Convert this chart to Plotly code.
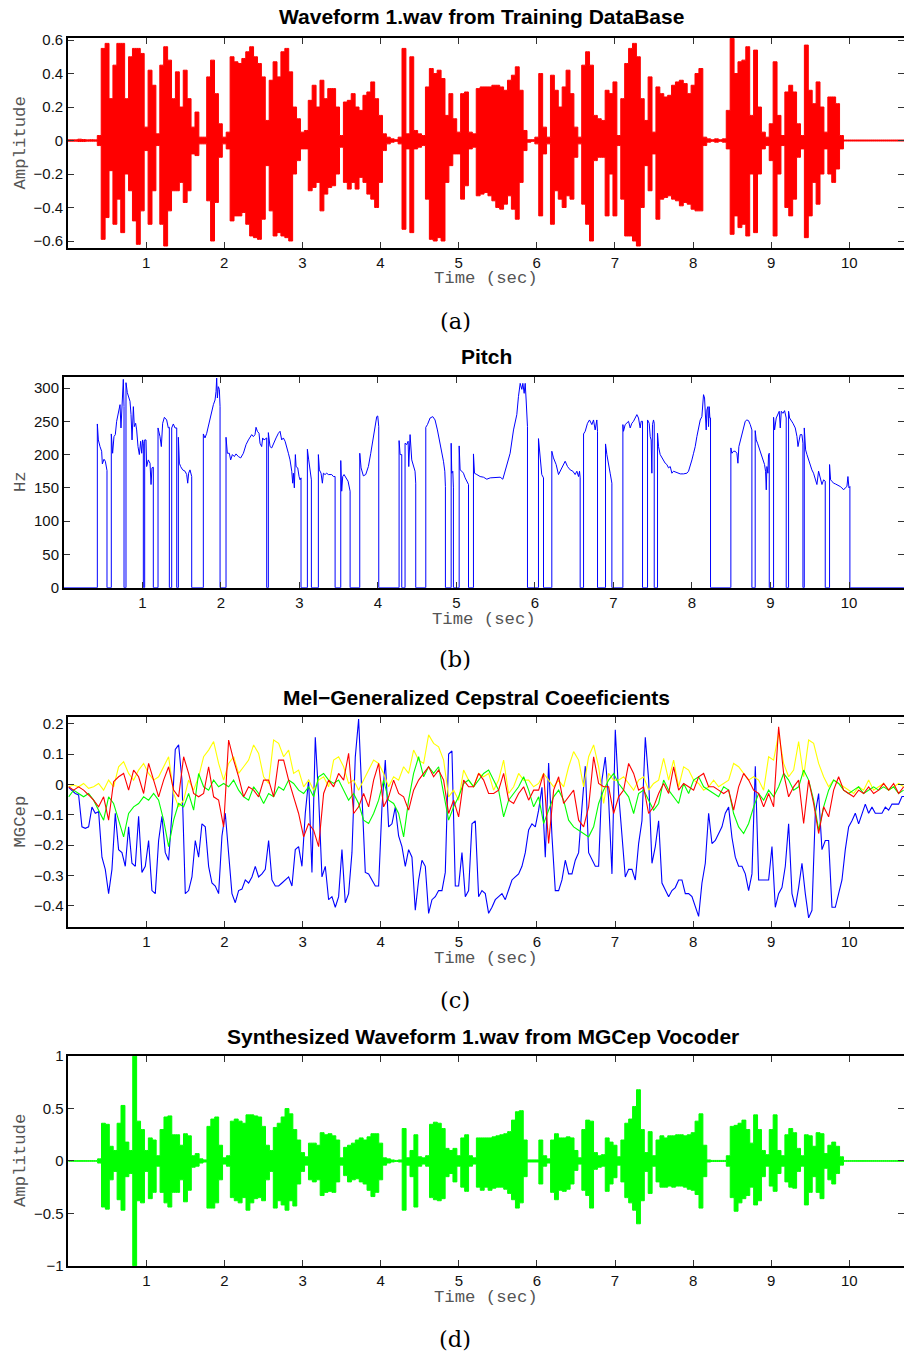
import numpy as np
import plotly.graph_objects as go

W, H = 904, 1352
T_END = 10.7


def px(x):
    return x / W


def py(y):
    return 1 - y / H


# ---------------------------------------------------------------------------
# (a) original waveform, peak envelope every 50 ms (upper / lower)
WAVE_DT = 0.05
ORIG_UP = [0.004, 0.004, 0.004, 0.008, 0.006, 0.004, 0.005, 0.004, 0.03, 0.55,
           0.58, 0.25, 0.45, 0.58, 0.58, 0.25, 0.50, 0.55, 0.55, 0.52,
           0.08, 0.42, 0.33, 0.04, 0.45, 0.56, 0.48, 0.25, 0.41, 0.20,
           0.42, 0.25, 0.08, 0.17, 0.02, 0.02, 0.38, 0.48, 0.28, 0.10,
           0.02, 0.05, 0.50, 0.47, 0.46, 0.49, 0.53, 0.56, 0.50, 0.46,
           0.38, 0.12, 0.36, 0.47, 0.38, 0.53, 0.55, 0.41, 0.20, 0.13,
           0.05, 0.06, 0.24, 0.33, 0.20, 0.36, 0.25, 0.31, 0.31, 0.20,
           0.03, 0.23, 0.24, 0.28, 0.20, 0.18, 0.27, 0.29, 0.35, 0.25,
           0.15, 0.04, 0.02, 0.01, 0.005, 0.02, 0.55, 0.04, 0.50, 0.06,
           0.04, 0.03, 0.32, 0.43, 0.40, 0.42, 0.37, 0.15, 0.28, 0.13,
           0.05, 0.28, 0.29, 0.05, 0.04, 0.31, 0.32, 0.32, 0.32, 0.33,
           0.33, 0.32, 0.30, 0.36, 0.39, 0.44, 0.30, 0.06, 0.005, 0.005,
           0.02, 0.40, 0.08, 0.02, 0.39, 0.30, 0.20, 0.32, 0.42, 0.28,
           0.08, 0.02, 0.45, 0.53, 0.45, 0.15, 0.13, 0.12, 0.30, 0.28,
           0.35, 0.03, 0.25, 0.46, 0.55, 0.58, 0.50, 0.25, 0.12, 0.38,
           0.05, 0.32, 0.28, 0.26, 0.27, 0.33, 0.35, 0.36, 0.34, 0.28,
           0.33, 0.40, 0.43, 0.02, 0.01, 0.005, 0.01, 0.005, 0.01, 0.18,
           0.61, 0.40, 0.47, 0.48, 0.56, 0.15, 0.54, 0.20, 0.05, 0.02,
           0.10, 0.47, 0.15, 0.03, 0.29, 0.33, 0.29, 0.10, 0.03, 0.57,
           0.30, 0.22, 0.35, 0.20, 0.05, 0.26, 0.26, 0.22, 0.03, 0.003,
           0.003, 0.003, 0.003, 0.003, 0.003, 0.003, 0.003, 0.003, 0.003, 0.003,
           0.003, 0.003, 0.003, 0.003, 0.003]
ORIG_LO = [-0.004, -0.004, -0.004, -0.006, -0.006, -0.004, -0.004, -0.004, -0.03, -0.59,
           -0.46, -0.18, -0.50, -0.35, -0.55, -0.20, -0.30, -0.48, -0.62, -0.42,
           -0.06, -0.50, -0.30, -0.03, -0.50, -0.63, -0.42, -0.30, -0.30, -0.25,
           -0.37, -0.30, -0.08, -0.09, -0.02, -0.02, -0.36, -0.60, -0.37, -0.10,
           -0.02, -0.05, -0.48, -0.45, -0.45, -0.43, -0.50, -0.57, -0.58, -0.59,
           -0.47, -0.15, -0.42, -0.57, -0.55, -0.57, -0.58, -0.60, -0.20, -0.12,
           -0.05, -0.05, -0.30, -0.28, -0.25, -0.42, -0.32, -0.28, -0.27, -0.20,
           -0.04, -0.25, -0.29, -0.25, -0.29, -0.22, -0.25, -0.32, -0.35, -0.40,
           -0.25, -0.06, -0.02, -0.01, -0.005, -0.02, -0.53, -0.05, -0.55, -0.05,
           -0.04, -0.03, -0.35, -0.59, -0.60, -0.58, -0.60, -0.25, -0.15, -0.08,
           -0.08, -0.35, -0.27, -0.05, -0.04, -0.33, -0.32, -0.31, -0.33, -0.36,
           -0.40, -0.41, -0.38, -0.33, -0.41, -0.47, -0.25, -0.06, -0.01, -0.005,
           -0.02, -0.45, -0.08, -0.02, -0.50, -0.30, -0.35, -0.40, -0.33, -0.35,
           -0.10, -0.02, -0.38, -0.50, -0.60, -0.12, -0.10, -0.10, -0.45, -0.20,
           -0.45, -0.03, -0.35, -0.57, -0.57, -0.60, -0.63, -0.40, -0.15, -0.30,
           -0.08, -0.47, -0.35, -0.34, -0.33, -0.35, -0.36, -0.39, -0.37, -0.38,
           -0.41, -0.42, -0.42, -0.03, -0.01, -0.005, -0.01, -0.005, -0.01, -0.05,
           -0.56, -0.45, -0.52, -0.50, -0.57, -0.20, -0.55, -0.20, -0.05, -0.03,
           -0.12, -0.57, -0.20, -0.03, -0.40, -0.45, -0.35, -0.10, -0.05, -0.58,
           -0.45, -0.25, -0.38, -0.20, -0.05, -0.20, -0.25, -0.17, -0.05, -0.003,
           -0.003, -0.003, -0.003, -0.003, -0.003, -0.003, -0.003, -0.003, -0.003, -0.003,
           -0.003, -0.003, -0.003, -0.003, -0.003]

# (d) vocoder output, same envelope layout
SYN_UP = [0.003, 0.003, 0.003, 0.003, 0.003, 0.003, 0.003, 0.003, 0.02, 0.36,
          0.35, 0.14, 0.10, 0.36, 0.53, 0.18, 0.10, 1.00, 0.38, 0.30,
          0.10, 0.22, 0.20, 0.05, 0.30, 0.42, 0.43, 0.25, 0.25, 0.15,
          0.26, 0.24, 0.05, 0.07, 0.02, 0.01, 0.33, 0.40, 0.42, 0.15,
          0.03, 0.05, 0.38, 0.40, 0.38, 0.36, 0.44, 0.44, 0.43, 0.42,
          0.33, 0.15, 0.10, 0.32, 0.36, 0.42, 0.50, 0.45, 0.30, 0.20,
          0.08, 0.04, 0.17, 0.17, 0.15, 0.27, 0.25, 0.26, 0.24, 0.20,
          0.03, 0.13, 0.15, 0.17, 0.20, 0.22, 0.20, 0.23, 0.26, 0.26,
          0.17, 0.03, 0.02, 0.01, 0.005, 0.01, 0.31, 0.03, 0.10, 0.25,
          0.04, 0.03, 0.05, 0.35, 0.37, 0.36, 0.31, 0.12, 0.10, 0.12,
          0.05, 0.22, 0.25, 0.05, 0.03, 0.22, 0.22, 0.22, 0.22, 0.23,
          0.24, 0.25, 0.26, 0.28, 0.39, 0.47, 0.48, 0.20, 0.01, 0.01,
          0.01, 0.20, 0.05, 0.02, 0.20, 0.26, 0.22, 0.22, 0.23, 0.22,
          0.10, 0.03, 0.30, 0.39, 0.38, 0.08, 0.05, 0.06, 0.22, 0.18,
          0.15, 0.04, 0.20, 0.36, 0.40, 0.52, 0.68, 0.30, 0.08, 0.28,
          0.05, 0.20, 0.24, 0.22, 0.24, 0.24, 0.25, 0.25, 0.24, 0.25,
          0.27, 0.38, 0.45, 0.15, 0.01, 0.005, 0.005, 0.005, 0.005, 0.05,
          0.33, 0.34, 0.36, 0.39, 0.30, 0.17, 0.44, 0.30, 0.10, 0.06,
          0.30, 0.44, 0.10, 0.05, 0.25, 0.31, 0.27, 0.12, 0.05, 0.25,
          0.24, 0.14, 0.27, 0.26, 0.07, 0.15, 0.18, 0.14, 0.04, 0.003,
          0.003, 0.003, 0.003, 0.003, 0.003, 0.003, 0.003, 0.003, 0.003, 0.003,
          0.003, 0.003, 0.003, 0.003, 0.003]
SYN_LO = [-0.003, -0.003, -0.003, -0.003, -0.003, -0.003, -0.003, -0.003, -0.02, -0.44,
          -0.46, -0.18, -0.10, -0.37, -0.47, -0.15, -0.12, -1.00, -0.38, -0.40,
          -0.10, -0.36, -0.30, -0.05, -0.30, -0.40, -0.44, -0.30, -0.30, -0.18,
          -0.39, -0.28, -0.06, -0.05, -0.02, -0.01, -0.45, -0.45, -0.40, -0.18,
          -0.03, -0.05, -0.35, -0.38, -0.40, -0.35, -0.47, -0.40, -0.36, -0.35,
          -0.38, -0.18, -0.10, -0.45, -0.38, -0.42, -0.47, -0.38, -0.43, -0.22,
          -0.10, -0.04, -0.18, -0.20, -0.18, -0.33, -0.30, -0.29, -0.30, -0.20,
          -0.04, -0.14, -0.20, -0.18, -0.17, -0.20, -0.22, -0.28, -0.34, -0.30,
          -0.18, -0.04, -0.02, -0.01, -0.005, -0.01, -0.47, -0.04, -0.15, -0.44,
          -0.05, -0.03, -0.05, -0.35, -0.37, -0.38, -0.36, -0.15, -0.12, -0.20,
          -0.05, -0.25, -0.29, -0.05, -0.03, -0.25, -0.28, -0.25, -0.28, -0.26,
          -0.25, -0.25, -0.27, -0.31, -0.37, -0.45, -0.40, -0.15, -0.01, -0.01,
          -0.01, -0.22, -0.05, -0.02, -0.30, -0.37, -0.28, -0.29, -0.27, -0.22,
          -0.09, -0.03, -0.28, -0.33, -0.45, -0.08, -0.06, -0.05, -0.29, -0.22,
          -0.16, -0.04, -0.20, -0.35, -0.40, -0.47, -0.60, -0.38, -0.10, -0.31,
          -0.05, -0.20, -0.25, -0.25, -0.24, -0.25, -0.24, -0.24, -0.25, -0.27,
          -0.28, -0.32, -0.45, -0.15, -0.01, -0.005, -0.005, -0.005, -0.005, -0.05,
          -0.35, -0.48, -0.40, -0.36, -0.33, -0.25, -0.42, -0.38, -0.15, -0.05,
          -0.24, -0.29, -0.12, -0.05, -0.20, -0.25, -0.26, -0.10, -0.05, -0.42,
          -0.30, -0.15, -0.30, -0.36, -0.07, -0.18, -0.22, -0.12, -0.04, -0.003,
          -0.003, -0.003, -0.003, -0.003, -0.003, -0.003, -0.003, -0.003, -0.003, -0.003,
          -0.003, -0.003, -0.003, -0.003, -0.003]

# ---------------------------------------------------------------------------
# (b) pitch: voiced segments (time in s, F0 in Hz); unvoiced frames are 0 Hz
PITCH_SEG_T = [
    [0.427, 0.440, 0.461, 0.482, 0.491, 0.512, 0.529, 0.550],
    [0.605, 0.622, 0.639, 0.656, 0.673, 0.694, 0.716, 0.728, 0.741, 0.758, 0.767],
    [0.792, 0.809, 0.826, 0.843, 0.856, 0.869, 0.886, 0.898, 0.915, 0.928, 0.945, 0.962, 0.979, 0.992, 1.004, 1.013],
    [1.030, 1.047, 1.055, 1.076, 1.098, 1.111, 1.123, 1.140],
    [1.200, 1.225, 1.242, 1.259, 1.281, 1.310, 1.331, 1.344],
    [1.374, 1.395, 1.416, 1.438],
    [1.459, 1.472, 1.488, 1.514, 1.544, 1.565, 1.578, 1.590, 1.607, 1.620, 1.629],
    [1.777, 1.798, 1.820, 1.854, 1.883, 1.905, 1.926, 1.939, 1.947, 1.956, 1.968, 1.981, 1.990],
    [2.066, 2.083, 2.108, 2.125, 2.147, 2.172, 2.193, 2.223, 2.253, 2.287, 2.321, 2.351, 2.372, 2.393, 2.414,
     2.435, 2.448, 2.465, 2.486, 2.499, 2.520, 2.533, 2.550, 2.576, 2.584],
    [2.605, 2.626, 2.648, 2.669, 2.703, 2.733, 2.754, 2.775, 2.796, 2.818, 2.839, 2.860, 2.881, 2.903, 2.915,
     2.924, 2.936, 2.949, 2.958, 2.979, 2.996, 3.009, 3.021],
    [3.102, 3.119, 3.136, 3.153],
    [3.242, 3.255, 3.276, 3.293, 3.306, 3.327, 3.348, 3.370, 3.412, 3.433, 3.455],
    [3.527, 3.539, 3.552, 3.569, 3.595, 3.620, 3.646],
    [3.769, 3.786, 3.815, 3.845, 3.879, 3.909, 3.934, 3.964, 3.985, 3.998, 4.011],
    [4.270, 4.283, 4.304],
    [4.346, 4.368, 4.385, 4.393, 4.410, 4.431, 4.452, 4.473, 4.482],
    [4.610, 4.631, 4.665, 4.699, 4.728, 4.758, 4.784, 4.813, 4.835, 4.852, 4.860],
    [4.933, 4.941, 4.954, 4.962],
    [5.035, 5.047, 5.069, 5.090, 5.111, 5.132, 5.154],
    [5.217, 5.230, 5.260, 5.302, 5.345, 5.387, 5.430, 5.472, 5.514, 5.557, 5.591, 5.608, 5.642, 5.684, 5.727,
     5.769, 5.790, 5.803, 5.812, 5.833, 5.846, 5.863, 5.876, 5.888, 5.897, 5.905],
    [6.045, 6.066, 6.087, 6.109],
    [6.215, 6.236, 6.270, 6.300, 6.321, 6.355, 6.385, 6.415, 6.449, 6.483, 6.512, 6.534, 6.555, 6.568, 6.576],
    [6.619, 6.640, 6.669, 6.695, 6.725, 6.746, 6.767, 6.788, 6.797],
    [6.899, 6.916, 6.937, 6.958, 6.980],
    [7.120, 7.128, 7.149, 7.171, 7.192, 7.213, 7.234, 7.255, 7.277, 7.298, 7.319, 7.340, 7.353, 7.370],
    [7.434, 7.455, 7.468, 7.480, 7.489, 7.497, 7.510, 7.519],
    [7.561, 7.574, 7.595, 7.616, 7.638, 7.659, 7.680, 7.701, 7.723, 7.744, 7.765, 7.807, 7.850, 7.892, 7.935,
     7.956, 7.977, 7.999, 8.020, 8.041, 8.062, 8.083, 8.105, 8.126, 8.139, 8.147, 8.160, 8.168, 8.181, 8.190,
     8.202, 8.211, 8.219, 8.228, 8.236],
    [8.495, 8.508, 8.529, 8.551, 8.572, 8.585, 8.597, 8.614, 8.636, 8.657, 8.678, 8.699, 8.720, 8.742, 8.763],
    [8.805, 8.818, 8.835, 8.861, 8.882, 8.903, 8.924, 8.937, 8.946, 8.954, 8.967, 8.975, 8.984],
    [9.039, 9.052, 9.073, 9.094, 9.111, 9.124, 9.137, 9.158, 9.179, 9.200],
    [9.230, 9.243, 9.260, 9.286, 9.315, 9.337, 9.350, 9.367, 9.379, 9.400, 9.413],
    [9.430, 9.447, 9.464, 9.485, 9.506, 9.527, 9.548, 9.570, 9.591, 9.612, 9.633, 9.655, 9.676, 9.697],
    [9.752, 9.765, 9.782, 9.803, 9.825, 9.846, 9.867, 9.888, 9.909, 9.931, 9.952, 9.973, 9.986, 9.999, 10.011],
]
PITCH_SEG_HZ = [
    [246, 222, 212, 205, 186, 193, 190, 176],
    [231, 202, 227, 230, 250, 260, 275, 240, 277, 313, 272],
    [308, 293, 288, 280, 260, 222, 272, 242, 247, 237, 212, 200, 220, 202, 222, 217],
    [222, 222, 182, 192, 187, 155, 180, 181],
    [240, 227, 212, 247, 256, 252, 240, 241],
    [240, 246, 240, 240],
    [226, 187, 182, 177, 175, 170, 157, 172, 177, 167, 167],
    [231, 225, 232, 250, 265, 275, 282, 295, 315, 285, 302, 298, 272],
    [226, 202, 202, 192, 200, 197, 201, 197, 195, 202, 215, 222, 227, 230, 227,
     230, 241, 235, 232, 217, 212, 225, 222, 225, 225],
    [233, 212, 210, 217, 225, 232, 235, 222, 225, 220, 212, 202, 192, 175, 157,
     172, 150, 200, 182, 180, 167, 162, 165],
    [208, 192, 172, 162],
    [200, 177, 172, 157, 172, 170, 172, 170, 170, 167, 167],
    [191, 145, 167, 170, 165, 160, 145],
    [202, 180, 168, 170, 182, 202, 222, 245, 257, 258, 242],
    [221, 200, 200],
    [217, 215, 220, 182, 230, 192, 182, 175, 157],
    [241, 245, 255, 257, 252, 237, 222, 200, 190, 175, 152],
    [217, 172, 175, 150],
    [213, 177, 175, 172, 165, 160, 155],
    [201, 172, 170, 167, 166, 163, 165, 165, 166, 166, 163, 170, 182, 202, 237,
     260, 287, 297, 307, 298, 307, 292, 307, 282, 242, 242],
    [224, 197, 170, 165],
    [205, 195, 185, 170, 175, 185, 190, 182, 177, 175, 170, 175, 167, 175, 165],
    [231, 235, 247, 252, 245, 252, 237, 252, 235],
    [216, 200, 182, 172, 157],
    [245, 235, 245, 247, 250, 240, 247, 250, 255, 260, 255, 240, 250, 250],
    [252, 247, 227, 222, 172, 245, 252, 247],
    [232, 212, 200, 195, 190, 187, 185, 180, 182, 172, 175, 173, 171, 171, 172,
     175, 182, 192, 202, 212, 227, 240, 252, 257, 275, 290, 285, 257, 237, 267,
     272, 242, 272, 255, 255],
    [210, 202, 205, 205, 202, 187, 212, 220, 230, 240, 250, 252, 251, 245, 237],
    [236, 222, 217, 207, 202, 192, 185, 175, 147, 182, 172, 200, 202],
    [256, 237, 255, 260, 265, 240, 265, 262, 266, 255],
    [265, 255, 252, 247, 240, 227, 212, 222, 230, 230, 217],
    [240, 207, 200, 192, 185, 177, 172, 162, 155, 175, 167, 155, 162, 160],
    [185, 162, 160, 157, 156, 155, 153, 152, 150, 147, 150, 152, 167, 150, 152],
]

# ---------------------------------------------------------------------------
# (c) mel-generalized cepstrum, first four coefficients
MGC_T0 = 0.004
MGC1_DT = 0.04268
MGC1 = [-0.01, -0.02, -0.03, -0.035, -0.14, -0.145, -0.14, -0.075, -0.095, -0.09,
        -0.24, -0.28, -0.36, -0.28, -0.095, -0.215, -0.225, -0.27, -0.14, -0.26,
        -0.27, -0.105, -0.29, -0.27, -0.185, -0.35, -0.36, -0.185, -0.105, -0.225,
        -0.25, -0.095, 0.115, 0.13, 0.015, -0.36, -0.35, -0.305, -0.185, -0.24,
        -0.13, -0.14, -0.27, -0.325, -0.335, -0.36, -0.17, -0.095, -0.24, -0.36,
        -0.39, -0.35, -0.345, -0.315, -0.325, -0.305, -0.27, -0.305, -0.295, -0.28,
        -0.185, -0.315, -0.335, -0.335, -0.325, -0.315, -0.305, -0.335, -0.215, -0.205,
        -0.27, -0.095, 0.015, -0.29, 0.155, -0.04, -0.305, -0.27, -0.38, -0.37,
        -0.405, -0.37, -0.215, -0.39, -0.36, -0.225, 0.09, 0.215, -0.04, -0.29,
        -0.295, -0.315, -0.335, -0.335, -0.075, 0.08, -0.14, -0.13, -0.075, -0.17,
        -0.205, -0.27, -0.215, -0.24, -0.415, -0.315, -0.25, -0.27, -0.425, -0.38,
        -0.37, -0.35, -0.35, -0.29, 0.10,
        0.11, -0.335, -0.335, -0.225, -0.37, -0.35, -0.13, -0.12, -0.37, -0.35,
        -0.36, -0.425, -0.405, -0.38, -0.37, -0.36, -0.38, -0.35, -0.315, -0.305,
        -0.295, -0.27, -0.225, -0.15, -0.13, -0.14, -0.085, -0.01, -0.24, 0.07,
        -0.17, -0.35, -0.35, -0.315, -0.25, -0.295, -0.295, -0.25, -0.225, -0.075,
        0.06, -0.225, -0.25, -0.27, -0.27, 0.015, 0.09, -0.05, -0.295, 0.18,
        -0.03, -0.185, -0.305, -0.28, -0.28, -0.315, -0.195, -0.12, 0.155, 0.015,
        -0.26, -0.205, -0.12, -0.325, -0.35, -0.37, -0.35, -0.34, -0.315, -0.315,
        -0.36, -0.36, -0.37, -0.405, -0.435, -0.325, -0.26, -0.095, -0.195, -0.185,
        -0.16, -0.14, -0.095, -0.075, -0.175, -0.24, -0.27, -0.27, -0.295, -0.35,
        -0.295, 0.06, -0.315, -0.315, -0.315, -0.315, -0.205, -0.405, -0.36, -0.34,
        -0.27, -0.13, -0.36, -0.405, -0.34, -0.26, -0.36, -0.44, -0.415, -0.095,
        -0.03, -0.215, -0.185, -0.185, -0.405, -0.405, -0.36, -0.315, -0.215, -0.14,
        -0.12, -0.095, -0.13, -0.095, -0.065, -0.095, -0.075, -0.095, -0.095, -0.095,
        -0.075, -0.085, -0.065, -0.065, -0.065, -0.04, -0.04]

MGC_DT = 0.06402
MGC2 = [-0.041, -0.019, -0.03, -0.041, -0.03, -0.052, -0.085, -0.118, -0.041, -0.063,
        -0.118, -0.173, -0.096, -0.074, -0.063, -0.041, -0.052, -0.03, -0.052, -0.118,
        -0.205, -0.118, -0.063, -0.074, -0.03, -0.085, 0.036, -0.008, -0.019, 0.014,
        -0.008, 0.003, -0.008, 0.014, -0.019, -0.041, -0.052, -0.008, -0.03, -0.063,
        -0.03, -0.041, -0.008, -0.019, 0.014, 0.003, -0.019, -0.03, -0.008, -0.041,
        0.025, 0.036, 0.014, 0.003, 0.014, -0.019, -0.052, -0.03, -0.063, -0.118,
        -0.129, -0.096, -0.052, 0.014, -0.052, -0.063, -0.096, -0.173, -0.052, 0.036,
        0.091, 0.025, 0.058, 0.036, 0.058, -0.03, -0.118,
        -0.074, -0.041, 0.003, 0.014, -0.008, 0.014, 0.036, 0.047, 0.014, -0.019,
        -0.107, -0.052, -0.03, -0.008, 0.025, -0.019, -0.074, -0.041, -0.129, -0.085,
        -0.041, -0.019, -0.052, -0.118, -0.14, -0.151, -0.162, -0.173, -0.14, -0.063,
        -0.019, 0.014, 0.036, 0.003, -0.019, -0.041, -0.096, -0.03, -0.019, -0.052,
        -0.085, -0.063, 0.014, -0.019, -0.041, -0.063, 0.003, -0.03, 0.014, 0.025,
        -0.008, -0.019, -0.03, -0.041, -0.008, -0.019, -0.096, -0.14, -0.162, -0.129,
        -0.074, -0.03, -0.052, -0.019, -0.041, -0.008, 0.036, 0.014, -0.019, -0.008,
        0.047, 0.014, -0.052, -0.151, -0.074, -0.019, 0.014, 0.003, -0.019, -0.03,
        -0.019, -0.008, -0.03, -0.019, -0.008, -0.019, -0.008, -0.019, -0.008, -0.03,
        -0.019]
MGC3 = [-0.008, -0.019, -0.008, -0.019, -0.035, -0.052, -0.074, -0.041, -0.118, 0.009,
        0.025, 0.036, -0.019, 0.047, 0.025, -0.03, 0.069, 0.014, -0.041, 0.014,
        0.058, -0.019, -0.041, 0.091, 0.036, -0.03, -0.041, -0.03, 0.058, -0.041,
        -0.052, -0.14, 0.146, 0.08, 0.025, -0.041, -0.008, -0.019, -0.041, 0.014,
        0.014, -0.041, 0.08, 0.08, 0.014, -0.041, -0.096, -0.173, -0.129, -0.151,
        -0.205, -0.03, 0.014, -0.008, 0.036, 0.014, 0.102, -0.096, -0.074, -0.03,
        -0.074, 0.014, 0.069, -0.074, -0.041, 0.014, -0.03, -0.041, -0.085, -0.019,
        0.014, 0.036, 0.058, 0.025, 0.047, 0.014, -0.096,
        -0.052, -0.107, 0.014, -0.008, -0.008, 0.036, 0.014, -0.03, -0.03, -0.019,
        0.036, -0.052, -0.063, -0.03, -0.008, -0.052, -0.019, -0.019, 0.036, -0.195,
        -0.019, 0.025, -0.063, -0.041, -0.019, -0.118, -0.14, -0.074, 0.091, 0.003,
        -0.008, -0.008, -0.096, -0.041, -0.019, 0.069, 0.036, -0.019, -0.008, -0.096,
        -0.074, -0.03, 0.003, -0.03, 0.058, -0.019, 0.003, -0.008, -0.019, 0.025,
        0.036, -0.008, -0.008, -0.019, -0.03, -0.019, -0.085, -0.008, 0.036, 0.014,
        -0.019, -0.03, -0.074, -0.03, -0.074, 0.19, 0.036, -0.041, -0.008, 0.014,
        -0.129, 0.014, -0.063, -0.162, -0.074, -0.107, -0.019, 0.025, -0.019, -0.03,
        -0.041, -0.019, -0.03, -0.008, -0.03, -0.019, 0.003, -0.019, 0.003, -0.03,
        -0.008]
MGC4 = [-0.008, -0.002, -0.008, 0.003, -0.013, -0.008, 0.003, -0.019, 0.014, -0.008,
        0.058, 0.075, 0.036, 0.014, 0.047, 0.069, 0.036, 0.014, 0.025, 0.058,
        0.091, -0.03, -0.074, -0.052, 0.014, -0.019, 0.025, 0.091, 0.113, 0.141,
        0.069, 0.014, 0.069, 0.091, 0.036, 0.058, 0.08, 0.13, 0.102, 0.025,
        0.003, 0.146, 0.135, 0.091, 0.113, 0.036, 0.047, -0.008, 0.014, -0.019,
        0.014, 0.025, -0.008, 0.08, 0.091, 0.058, 0.003, 0.014, -0.019, 0.014,
        0.047, 0.08, 0.069, 0.036, -0.008, 0.025, 0.014, 0.058, 0.036, 0.113,
        0.08, 0.069, 0.163, 0.135, 0.124, 0.08, -0.041,
        -0.019, -0.052, 0.047, 0.014, -0.008, 0.036, 0.025, 0.036, -0.019, 0.014,
        0.08, -0.03, -0.008, 0.036, 0.014, 0.014, -0.008, 0.003, 0.036, 0.014,
        -0.008, 0.014, -0.008, 0.058, 0.108, 0.08, -0.008, 0.091, 0.13, 0.058,
        -0.063, 0.036, 0.014, 0.014, 0.025, 0.003, -0.019, 0.014, 0.025, -0.019,
        0.003, 0.014, 0.086, 0.014, 0.08, -0.008, 0.058, 0.047, 0.014, 0.003,
        -0.019, -0.008, 0.014, -0.008, 0.003, 0.014, 0.069, 0.058, 0.036, 0.014,
        0.025, 0.014, -0.019, 0.091, 0.08, 0.168, 0.069, 0.025, 0.047, 0.141,
        0.025, 0.146, 0.135, 0.069, 0.025, -0.008, 0.014, 0.003, -0.008, -0.019,
        -0.03, -0.008, -0.019, 0.014, -0.019, -0.008, 0.003, -0.019, -0.008, 0.003,
        -0.008]

# ---------------------------------------------------------------------------
TICK_FONT = dict(family="Liberation Sans, Arial, sans-serif", size=15, color="#111111")
TITLE_FONT = dict(family="Liberation Sans, Arial, sans-serif", size=21, color="#000000")
LABEL_FONT = dict(family="Liberation Mono, Courier New, monospace", size=17.3, color="#555555")
CAPTION_FONT = dict(family="DejaVu Serif, serif", size=22.5, color="#000000")

fig = go.Figure()


def envelope_trace(up, lo, color, xa, ya):
    # each 50 ms frame is held over its own interval, as a column of the waveform
    t = np.arange(len(up)) * WAVE_DT
    up = np.asarray(up)
    lo = np.asarray(lo)
    xs = np.concatenate([t, t[::-1]])
    ys = np.concatenate([up, lo[::-1]])
    return go.Scatter(x=xs, y=ys, mode="lines", fill="toself", fillcolor=color,
                      line=dict(color=color, width=1, shape="hvh"), xaxis=xa, yaxis=ya,
                      hoverinfo="skip", showlegend=False)


# (a) original waveform
fig.add_trace(envelope_trace(ORIG_UP, ORIG_LO, "#FF0000", "x", "y"))

# (b) pitch contour, unvoiced stretches drawn on 0 Hz
pt, pf = [0.0], [0.0]
for seg_t, seg_f in zip(PITCH_SEG_T, PITCH_SEG_HZ):
    pt += [seg_t[0]] + list(seg_t) + [seg_t[-1]]
    pf += [0] + list(seg_f) + [0]
pt.append(T_END)
pf.append(0)
fig.add_trace(go.Scatter(x=pt, y=pf, mode="lines", line=dict(color="#0000FF", width=1),
                         xaxis="x2", yaxis="y2", hoverinfo="skip", showlegend=False))

# (c) MGCep coefficients
t1 = MGC_T0 + np.arange(len(MGC1)) * MGC1_DT
tk = MGC_T0 + np.arange(len(MGC2)) * MGC_DT
for series, tt, color in [(MGC1, t1, "#0000FF"), (MGC4, tk, "#FFFF00"),
                          (MGC2, tk, "#00FF00"), (MGC3, tk, "#FF0000")]:
    fig.add_trace(go.Scatter(x=tt, y=series, mode="lines", line=dict(color=color, width=1.1),
                             xaxis="x3", yaxis="y3", hoverinfo="skip", showlegend=False))

# (d) synthesized waveform
fig.add_trace(envelope_trace(SYN_UP, SYN_LO, "#00FF00", "x4", "y4"))

AXIS_STYLE = dict(showline=True, linecolor="#000000", linewidth=1.6, mirror="ticks",
                  ticks="inside", ticklen=6, tickwidth=1, tickcolor="#333333",
                  showgrid=False, zeroline=False, tickfont=TICK_FONT, automargin=False)


def xaxis(left, anchor):
    return dict(domain=[px(left), 1.0], range=[0, T_END], anchor=anchor,
                tickvals=list(range(1, 11)), ticktext=[str(i) for i in range(1, 11)],
                **AXIS_STYLE)


def yaxis(top, bottom, rng, vals, texts, anchor):
    return dict(domain=[py(bottom), py(top)], range=rng, anchor=anchor,
                tickvals=vals, ticktext=texts, **AXIS_STYLE)


fig.update_layout(
    template="none",
    width=W, height=H, autosize=False,
    margin=dict(l=0, r=0, t=0, b=0, pad=0),
    paper_bgcolor="white", plot_bgcolor="white",
    xaxis=xaxis(68, "y"),
    yaxis=yaxis(37.7, 247.7, [-0.64, 0.614], [-0.6, -0.4, -0.2, 0, 0.2, 0.4, 0.6],
                ["\u22120.6", "\u22120.4", "\u22120.2", "0", "0.2", "0.4", "0.6"], "x"),
    xaxis2=xaxis(63.8, "y2"),
    yaxis2=yaxis(376.7, 587.7, [0, 317], [0, 50, 100, 150, 200, 250, 300],
                 ["0", "50", "100", "150", "200", "250", "300"], "x2"),
    xaxis3=xaxis(68.3, "y3"),
    yaxis3=yaxis(717, 927, [-0.47, 0.222], [-0.4, -0.3, -0.2, -0.1, 0, 0.1, 0.2],
                 ["\u22120.4", "\u22120.3", "\u22120.2", "\u22120.1", "0", "0.1", "0.2"], "x3"),
    xaxis4=xaxis(68.3, "y4"),
    yaxis4=yaxis(1055.7, 1266, [-1.003, 1.005], [-1, -0.5, 0, 0.5, 1],
                 ["\u22121", "\u22120.5", "0", "0.5", "1"], "x4"),
)

texts = [
    # titles
    ("<b>Waveform 1.wav from Training DataBase</b>", 481.5, 17, TITLE_FONT, 0),
    ("<b>Pitch</b>", 486, 356, TITLE_FONT, 0),
    ("<b>Mel\u2212Generalized Cepstral Coeeficients</b>", 476, 697, TITLE_FONT, 0),
    ("<b>Synthesized Waveform 1.wav from MGCep Vocoder</b>", 482.5, 1036, TITLE_FONT, 0),
    # axis labels
    ("Time (sec)", 486, 278, LABEL_FONT, 0),
    ("Time (sec)", 484, 619, LABEL_FONT, 0),
    ("Time (sec)", 486, 958, LABEL_FONT, 0),
    ("Time (sec)", 486, 1297.5, LABEL_FONT, 0),
    ("Amplitude", 20, 143.5, LABEL_FONT, -90),
    ("Hz", 20, 482, LABEL_FONT, -90),
    ("MGCep", 20, 821.5, LABEL_FONT, -90),
    ("Amplitude", 20, 1161, LABEL_FONT, -90),
    # panel captions
    ("(a)", 455, 320.5, CAPTION_FONT, 0),
    ("(b)", 455, 659.5, CAPTION_FONT, 0),
    ("(c)", 455, 1000, CAPTION_FONT, 0),
    ("(d)", 455, 1338.5, CAPTION_FONT, 0),
]
for txt, cx, cy, font, ang in texts:
    fig.add_annotation(text=txt, x=px(cx), y=py(cy), xref="paper", yref="paper",
                       xanchor="center", yanchor="middle", showarrow=False,
                       font=font, textangle=ang)

fig.write_html("out.html")
